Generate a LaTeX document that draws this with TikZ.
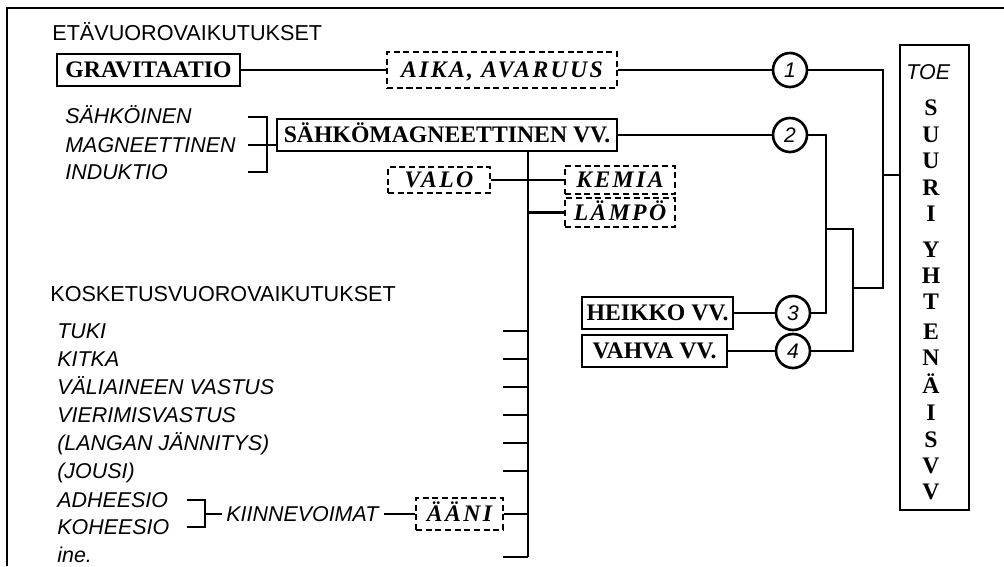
\documentclass[tikz,border=0pt]{standalone}
\usepackage{fontspec}
\setmainfont{Liberation Serif}
\setsansfont{Liberation Sans}
\newfontfamily\kasin{Liberation Serif}[LetterSpace=10]

\begin{document}
\begin{tikzpicture}[x=0.02cm, y=-0.02cm,
    ln/.style={line width=1.3pt},
    otsikko/.style={font=\sffamily\fontsize{12.3}{14}\selectfont, anchor=west, inner sep=0pt, text height=8.8pt, text depth=0pt},
    laji/.style={font=\sffamily\itshape\fontsize{12.2}{14}\selectfont, anchor=west, inner sep=0pt, text height=8.7pt, text depth=0pt},
    vvbox/.style={draw, line width=1.6pt, inner sep=0pt, minimum height=0.64cm, font=\bfseries\fontsize{13.5}{15}\selectfont, text height=9pt, text depth=0pt},
    kasi/.style={draw, dash pattern=on 3.5pt off 2pt, line width=1.2pt, inner sep=0pt, font=\kasin\bfseries\itshape\fontsize{13.5}{15}\selectfont, text height=8.9pt, text depth=0pt},
    nro/.style={circle, draw, line width=1.5pt, minimum size=0.68cm, inner sep=0pt, font=\sffamily\itshape\fontsize{12}{13}\selectfont},
    kirjain/.style={font=\bfseries\fontsize{13.5}{15}\selectfont, inner sep=0pt, text height=9pt, text depth=0pt}]
    \useasboundingbox (0,0) rectangle (1004,566);

    % Frame
    \draw [line width=1.2pt] (7,566) -- (7,8) -- (1004,8);

    % Etavuorovaikutukset
    \node [otsikko] (eta) at (52,33) {ETÄVUOROVAIKUTUKSET};
    \node [vvbox, minimum width=3.66cm] (grav) at (148.5,70) {GRAVITAATIO};
    \node [kasi, minimum width=4.6cm, minimum height=0.72cm] (aika) at (502,70) {AIKA, AVARUUS};
    \node [nro] (n1) at (790,70) {1};
    \draw [ln] (grav) -- (aika);
    \draw [ln] (aika) -- (n1);

    \node [laji] (sahk) at (65,116) {SÄHKÖINEN};
    \node [laji] (magn) at (65,145) {MAGNEETTINEN};
    \node [laji] (ind) at (65,172) {INDUKTIO};
    \coordinate (s1) at (248,117);
    \coordinate (s2) at (248,172);
    \coordinate (s3) at (248,145);
    \draw [ln] (s1) -- ++(19,0) |- (s2);
    \node [vvbox, minimum width=6.8cm] (sm) at (447,135) {SÄHKÖMAGNEETTINEN VV.};
    \draw [ln] (s3) -- (s3 -| sm.west);
    \node [nro] (n2) at (790,135) {2};
    \draw [ln] (sm) -- (n2);

    % Trunk with light, chemistry, heat
    \coordinate (runko) at (528,557);
    \draw [ln] (sm.south -| runko) -- (runko);
    \node [kasi, minimum width=2.04cm, minimum height=0.52cm] (valo) at (439,180) {VALO};
    \node [kasi, minimum width=2.2cm, minimum height=0.56cm] (kemia) at (620,180) {KEMIA};
    \node [kasi, minimum width=2.2cm, minimum height=0.58cm] (lampo) at (620,212.5) {LÄMPÖ};
    \draw [ln] (valo) -- (kemia);
    \draw [ln] (lampo.west) -- (lampo.west -| runko);

    % Kosketusvuorovaikutukset
    \node [otsikko] (kos) at (50,294) {KOSKETUSVUOROVAIKUTUKSET};
    \foreach \t/\y [count=\i] in {TUKI/331, KITKA/359, VÄLIAINEEN VASTUS/387, VIERIMISVASTUS/415, {(LANGAN JÄNNITYS)}/443, {(JOUSI)}/471, ADHEESIO/500, KOHEESIO/527, ine./555}
        \node [laji] (k\i) at (57,\y) {\t};
    \foreach \y [count=\i] in {331,359,387,415,443,471,557} {
        \coordinate (p\i) at (503,\y);
        \draw [ln] (p\i) -- (p\i -| runko);
    }

    \coordinate (a1) at (187,500);
    \coordinate (a2) at (187,527);
    \coordinate (a3) at (205,514);
    \draw [ln] (a1) -- ++(18,0) |- (a2);
    \node [laji] (kiin) at (226,514) {KIINNEVOIMAT};
    \draw [ln] (a3) -- ([xshift=-2pt]kiin.west);
    \node [kasi, minimum width=1.74cm, minimum height=0.64cm] (aani) at (459.5,514) {ÄÄNI};
    \draw [ln] ([xshift=3pt]kiin.east) -- (aani);
    \draw [ln] (aani.east) -- (aani.east -| runko);

    % Weak and strong
    \node [vvbox, minimum width=3.02cm] (heikko) at (657.5,313) {HEIKKO VV.};
    \node [vvbox, minimum width=2.9cm] (vahva) at (654.5,351) {VAHVA VV.};
    \node [nro] (n3) at (793,313) {3};
    \node [nro] (n4) at (793,351) {4};
    \draw [ln] (heikko) -- (n3);
    \draw [ln] (vahva) -- (n4);

    % TOE box
    \node [draw, line width=1.6pt, minimum width=1.38cm, minimum height=9.3cm, inner sep=0pt] (toe) at (934.5,277.5) {};
    \node [laji] (toet) at (906,72) {TOE};
    \foreach \c/\y [count=\i] in {S/108,U/135,U/161,R/188,I/214,Y/250,H/276,T/302,E/332,N/358,Ä/386,I/413,S/440,V/466,V/492}
        \node [kirjain] (y\i) at (931,\y) {\c};

    % Joining the four
    \coordinate (j1) at (883,288);
    \coordinate (j2) at (826,229);
    \coordinate (j3) at (853,229);
    \coordinate (j4) at (883,175);
    \draw [ln] (n1) -| (j1) -- (j1 -| j3);
    \draw [ln] (n2) -| (j2) |- (n3);
    \draw [ln] (j2) -- (j3) |- (n4);
    \draw [ln] (j4) -- (j4 -| toe.west);
\end{tikzpicture}
\end{document}
